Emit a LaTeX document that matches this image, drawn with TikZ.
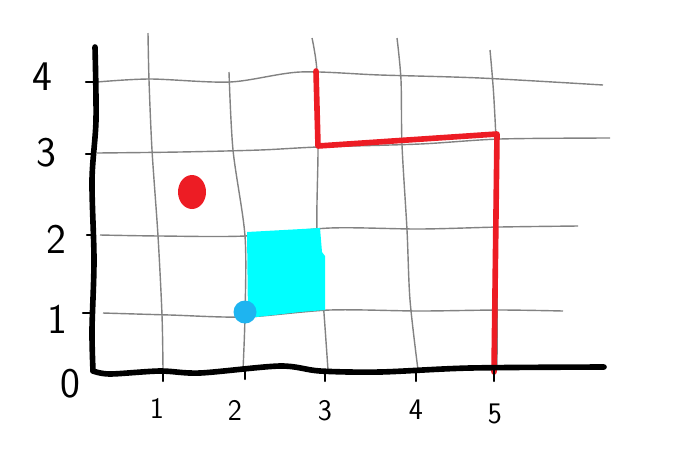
\documentclass[tikz,border=0pt]{standalone}
\usetikzlibrary{shapes.geometric}
\begin{document}
\begin{tikzpicture}[x=0.02cm,y=-0.02cm,
  gridline/.style={draw={rgb,255:red,130;green,130;blue,130},line width=0.8pt},
  axisline/.style={draw=black,line width=3.2pt,line cap=round,line join=round},
  tickline/.style={draw=black,line width=1.4pt,line cap=round},
  redline/.style={draw={rgb,255:red,237;green,28;blue,36},line width=3.2pt,line cap=round,line join=round},
  ylab/.style={font=\sffamily\fontsize{24}{24}\selectfont,inner sep=0pt},
  xlab/.style={font=\sffamily\fontsize{17}{17}\selectfont,inner sep=0pt}]
\definecolor{redmark}{RGB}{237,28,36}
\definecolor{cyanfill}{RGB}{0,255,255}
\definecolor{bluedot}{RGB}{30,180,240}
\useasboundingbox (0,0) rectangle (689,471);
% grid horizontals
\draw[gridline] plot[smooth] coordinates {(97,82) (150,79) (230,82) (300,72) (380,75) (480,78) (603,85)};
\draw[gridline] plot[smooth] coordinates {(97,153) (180,152) (260,150) (318,147) (420,144) (500,139) (610,138)};
\draw[gridline] plot[smooth] coordinates {(100,235) (160,236) (245,236) (330,228) (420,229) (500,227) (578,226)};
\draw[gridline] plot[smooth] coordinates {(103,313) (170,315) (245,317) (330,310) (420,311) (500,310) (563,311)};
% grid verticals
\draw[gridline] plot[smooth] coordinates {(148,33) (149,80) (152,150) (158,236) (162,315) (163,370)};
\draw[gridline] plot[smooth] coordinates {(229,72) (233,150) (245,236) (245,315) (243,370)};
\draw[gridline] plot[smooth] coordinates {(312,38) (317,72) (318,150) (317,230) (323,300) (328,370)};
\draw[gridline] plot[smooth] coordinates {(397,38) (401,80) (402,145) (407,230) (410,300) (418,370)};
\draw[gridline] plot[smooth] coordinates {(490,50) (494,100) (497,180) (497,370)};
% cyan square
\fill[cyanfill] (247,232) -- (320,228) -- (322,252) -- (325,256) -- (325,310) -- (300,312) -- (248,318) -- cycle;
\node[circle,fill=bluedot,minimum width=0.42cm,minimum height=0.46cm,inner sep=0pt] (bd) at (245,312) {};
% red dot
\node[ellipse,fill=redmark,minimum width=0.56cm,minimum height=0.68cm,inner sep=0pt] (rd) at (192,192) {};
% red path
\coordinate (r1) at (316,71);
\coordinate (r2) at (318,146);
\coordinate (r3) at (497,134);
\coordinate (r4) at (494,372);
\draw[redline] (r1) -- (r2) -- (r3) -- (r4);
% axes
\coordinate (ytop) at (95,47);
\coordinate (orig) at (93,371);
\coordinate (xend) at (604,367);
\draw[axisline] plot[smooth] coordinates {(95,47) (96,120) (92,180) (94,260) (92,330) (93,371)};
\draw[axisline] plot[smooth] coordinates {(93,371) (110,374) (160,371) (200,373) (280,366) (320,371) (380,372) (470,368) (604,367)};
% y ticks
\draw[tickline] (86,82) -- (95,82);
\draw[tickline] (86,154) -- (91,154);
\draw[tickline] (87,235) -- (95,235);
\draw[tickline] (83,313) -- (92,313);
% x ticks
\draw[tickline] (163,371) -- (163,381);
\draw[tickline] (245,371) -- (245,379);
\draw[tickline] (325,370) -- (325,381);
\draw[tickline] (416,370) -- (416,381);
\draw[tickline] (494,370) -- (494,381);
% labels
\node[ylab] (y4) at (42,77) {4};
\node[ylab] (y3) at (46,153) {3};
\node[ylab] (y2) at (56,239) {2};
\node[ylab] (y1) at (57,319) {1};
\node[ylab] (y0) at (70,384) {0};
\node[xlab] (x1) at (157,408) {1};
\node[xlab] (x2) at (235,410) {2};
\node[xlab] (x3) at (325,411) {3};
\node[xlab] (x4) at (416,410) {4};
\node[xlab] (x5) at (495,414) {5};
\end{tikzpicture}
\end{document}
